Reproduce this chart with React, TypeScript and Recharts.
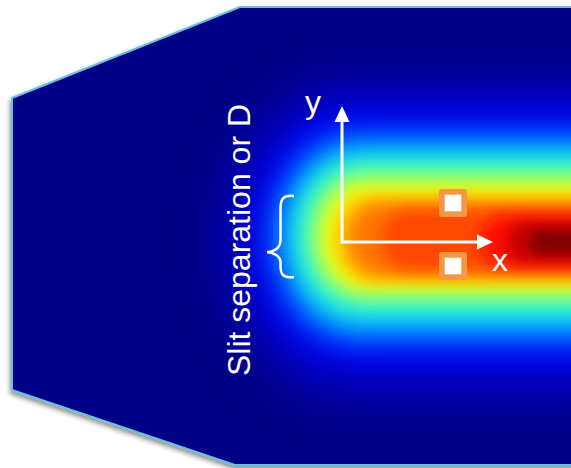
import React from 'react';
import { ComposedChart, XAxis, YAxis, Scatter, ReferenceArea, ReferenceLine } from 'recharts';

// units: pixels of the figure, origin where the two arrows meet, y pointing up

const plateOutline = [
  { x: -330, y: 144 },
  { x: -102, y: 235 },
  { x: 238, y: 235 },
  { x: 238, y: -223 },
  { x: -107, y: -223 },
  { x: -330, y: -148 },
];

// intensity bands of the jet, outermost first
const bandColors = ['#0000c4', '#0000ff', '#0068ff', '#00ccff', '#30ffd0', '#a8ff58', '#ffff00', '#ffb400', '#ff7400', '#ff4600', '#ff0a00', '#c40000', '#820000'];
const bandLeft = [-117, -86, -70, -56, -44, -31, -18, -6, 8, 40, 140, 165, 188];
const bandRight = [358, 358, 358, 358, 358, 358, 358, 358, 358, 358, 358, 290, 262];
const bandTop = [160, 127, 108, 94, 82, 69, 55, 45, 38, 32, 26, 20, 12];
const bandBottom = [-156, -118, -100, -85, -71, -57, -45, -38, -33, -28, -24, -20, -12];

const probes = [
  { x: 111, y: 39 },
  { x: 111, y: -24 },
];

const xArrow = [{ x: 0, y: 0 }, { x: 151, y: 0 }];
const yArrow = [{ x: 0, y: 0 }, { x: 0, y: 136 }];

const braceX = [-75, -48];
const braceY = [-36, 47];

const labels = [
  { text: 'y', x: -29, y: 129, rotate: 0 },
  { text: 'x', x: 158, y: -29, rotate: 0 },
  { text: 'Slit separation or D', x: -92, y: 2, rotate: -90 },
];

const FONT = '"Liberation Sans", Arial, sans-serif';

function Plate({ points }: any) {
  const d = points.map((p: any, i: number) => `${i ? 'L' : 'M'}${p.x},${p.y}`).join('') + 'Z';
  return (
    <g>
      <defs>
        <clipPath id="plateClip">
          <path d={d} />
        </clipPath>
        <filter id="plateShadow" x="-10%" y="-10%" width="120%" height="125%">
          <feDropShadow dx="-1" dy="3" stdDeviation="2.5" floodColor="#000" floodOpacity="0.45" />
        </filter>
      </defs>
      <path d={d} fill="#000086" stroke="#68bedc" strokeWidth={2} filter="url(#plateShadow)" />
    </g>
  );
}

function Band({ x, y, width, height, color, idx }: any) {
  const ry = height / 2;
  const sd = 4 + height * 0.06;
  const id = `band-blur-${idx}`;
  return (
    <g clipPath="url(#plateClip)">
      <defs>
        <filter id={id} x="-30%" y="-80%" width="160%" height="260%">
          <feGaussianBlur stdDeviation={sd} />
        </filter>
      </defs>
      <rect x={x} y={y} width={width} height={height} rx={ry * 0.8} ry={ry} fill={color} filter={`url(#${id})`} />
    </g>
  );
}

function Brace({ x, y, width, height }: any) {
  const x0 = x;
  const x1 = x + width;
  const xm = x + width * 0.5;
  const bot = y + height;
  const tip = y + height * 0.69;
  const d =
    `M${x1},${y + 1} C${xm + 3},${y} ${xm},${y + 4} ${xm},${y + 13} ` +
    `L${xm},${tip - 12} C${xm},${tip - 3} ${x0 + 5},${tip} ${x0},${tip} ` +
    `C${x0 + 5},${tip} ${xm},${tip + 3} ${xm},${tip + 10} ` +
    `L${xm},${bot - 12} C${xm},${bot - 3} ${xm + 3},${bot} ${x1},${bot - 1}`;
  return <path d={d} fill="none" stroke="#fff" strokeWidth={2.5} />;
}

function Arrow({ x1, y1, x2, y2 }: any) {
  const len = Math.hypot(x2 - x1, y2 - y1) || 1;
  const ux = (x2 - x1) / len;
  const uy = (y2 - y1) / len;
  const bx = x2 - ux * 16;
  const by = y2 - uy * 16;
  const nx = -uy * 7.5;
  const ny = ux * 7.5;
  return (
    <g>
      <line x1={x1} y1={y1} x2={bx} y2={by} stroke="#fff" strokeWidth={3} strokeLinecap="square" />
      <polygon points={`${x2},${y2} ${bx + nx},${by + ny} ${bx - nx},${by - ny}`} fill="#fff" />
    </g>
  );
}

function Probe({ cx, cy }: any) {
  return (
    <g>
      <rect x={cx - 14} y={cy - 14} width={28} height={28} rx={2.5} fill="#f79646" />
      <rect x={cx - 8.3} y={cy - 8.3} width={16.6} height={16.6} fill="#fff" />
    </g>
  );
}

function Label({ cx, cy, payload }: any) {
  return (
    <text
      x={cx}
      y={cy}
      fill="#fff"
      fontSize={32}
      fontFamily={FONT}
      textAnchor="middle"
      transform={payload.rotate ? `rotate(${payload.rotate} ${cx} ${cy})` : undefined}
    >
      {payload.text}
    </text>
  );
}

export default function App() {
  return (
    <div>
      <style>{'body{margin:0}'}</style>
      <ComposedChart width={571} height={468} margin={{ top: 0, right: 0, bottom: 0, left: 0 }}>
        <XAxis type="number" dataKey="x" domain={[-342, 229]} hide allowDataOverflow />
        <YAxis type="number" dataKey="y" domain={[-226, 242]} hide allowDataOverflow />
        <Scatter
          data={plateOutline}
          isAnimationActive={false}
          shape={() => <g />}
          line={(p: any) => <Plate points={p.points} />}
          lineType="joint"
          zIndex={1}
        />
        {bandColors.map((c, i) => (
          <ReferenceArea
            key={c}
            x1={bandLeft[i]}
            x2={bandRight[i]}
            y1={bandBottom[i]}
            y2={bandTop[i]}
            ifOverflow="visible"
            zIndex={10 + i}
            shape={(p: any) => <Band {...p} color={c} idx={i} />}
          />
        ))}
        <ReferenceArea
          x1={braceX[0]}
          x2={braceX[1]}
          y1={braceY[0]}
          y2={braceY[1]}
          ifOverflow="visible"
          zIndex={40}
          shape={(p: any) => <Brace {...p} />}
        />
        <ReferenceLine segment={xArrow} ifOverflow="visible" zIndex={41} shape={(p: any) => <Arrow {...p} />} />
        <ReferenceLine segment={yArrow} ifOverflow="visible" zIndex={41} shape={(p: any) => <Arrow {...p} />} />
        <Scatter data={probes} isAnimationActive={false} zIndex={42} shape={(p: any) => <Probe {...p} />} />
        <Scatter data={labels} isAnimationActive={false} zIndex={43} shape={(p: any) => <Label {...p} />} />
      </ComposedChart>
    </div>
  );
}
